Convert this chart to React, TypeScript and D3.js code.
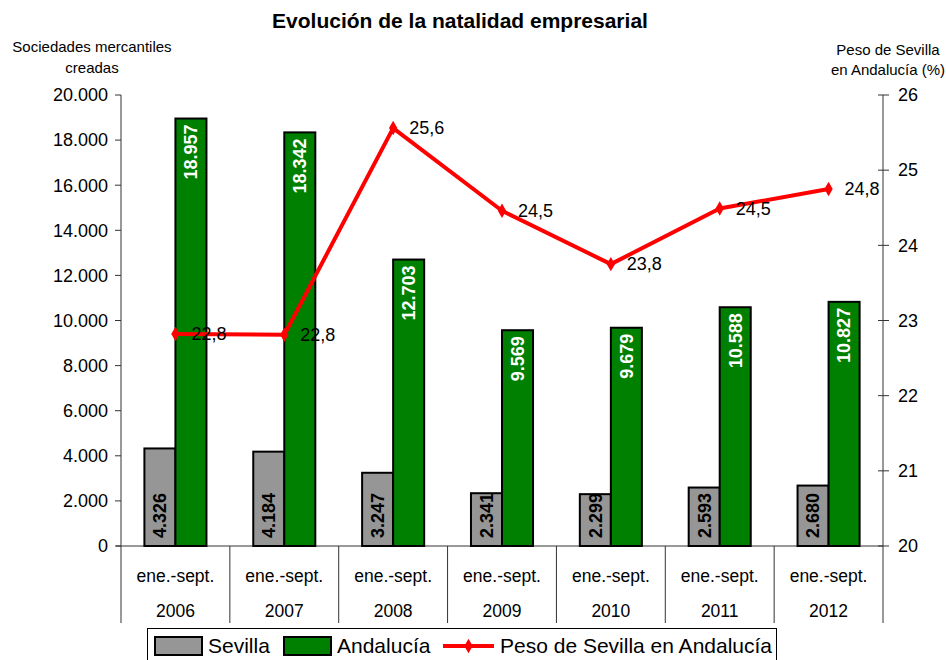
import React from "react";
import * as d3 from "d3";

const years = ["2006", "2007", "2008", "2009", "2010", "2011", "2012"];
const periodLabel = "ene.-sept.";
const sevilla = [4326, 4184, 3247, 2341, 2299, 2593, 2680];
const andalucia = [18957, 18342, 12703, 9569, 9679, 10588, 10827];
const peso = [22.82, 22.81, 25.56, 24.46, 23.75, 24.49, 24.75];
const pesoLabels = ["22,8", "22,8", "25,6", "24,5", "23,8", "24,5", "24,8"];
const leftTicks = [0, 2000, 4000, 6000, 8000, 10000, 12000, 14000, 16000, 18000, 20000];
const rightTicks = [20, 21, 22, 23, 24, 25, 26];

const W = 946;
const H = 660;
const left = 121;
const right = 883;
const top = 95;
const bottom = 546;
const FONT = "Arial, 'Liberation Sans', Helvetica, sans-serif";

const fmt = (v: number) => d3.format(",")(v).replace(/,/g, ".");

export default function App() {
  const x = d3.scaleBand<string>().domain(years).range([left, right]).paddingInner(0).paddingOuter(0);
  const y = d3.scaleLinear().domain([0, 20000]).range([bottom, top]);
  const y2 = d3.scaleLinear().domain([20, 26]).range([bottom, top]);
  const bw = x.bandwidth() * 0.285;
  const line = d3
    .line<number>()
    .x((_, i) => (x(years[i]) as number) + x.bandwidth() / 2)
    .y((d) => y2(d));
  const diamond = d3.symbol().type(d3.symbolDiamond).size(60)() as string;

  return (
    <svg width={W} height={H} style={{ position: "absolute", left: 0, top: 0, background: "#fff" }} fontFamily={FONT}>
      <rect x={0} y={0} width={W} height={H} fill="#fff" />
      <text x={460} y={28} textAnchor="middle" fontWeight="bold" fontSize={21}>
        Evolución de la natalidad empresarial
      </text>
      <text x={92} y={52} textAnchor="middle" fontSize={15}>Sociedades mercantiles</text>
      <text x={92} y={73} textAnchor="middle" fontSize={15}>creadas</text>
      <text x={888} y={55} textAnchor="middle" fontSize={15}>Peso de Sevilla</text>
      <text x={888} y={75} textAnchor="middle" fontSize={15}>en Andalucía (%)</text>

      {/* left axis */}
      <line x1={left} x2={left} y1={top} y2={bottom} stroke="#333" />
      {leftTicks.map((t) => (
        <g key={t}>
          <line x1={left - 6} x2={left} y1={y(t)} y2={y(t)} stroke="#333" />
          <text x={108} y={y(t)} dy="0.35em" textAnchor="end" fontSize={18}>
            {fmt(t)}
          </text>
        </g>
      ))}

      {/* right axis */}
      <line x1={right} x2={right} y1={top} y2={bottom} stroke="#333" />
      {rightTicks.map((t) => (
        <g key={t}>
          <line x1={right - 5} x2={right + 6} y1={y2(t)} y2={y2(t)} stroke="#333" />
          <text x={898} y={y2(t)} dy="0.35em" textAnchor="start" fontSize={18}>
            {t}
          </text>
        </g>
      ))}

      {/* category axis */}
      <line x1={left - 5} x2={right} y1={bottom} y2={bottom} stroke="#333" />
      {years.map((yr) => (
        <line key={"s" + yr} x1={x(yr) as number} x2={x(yr) as number} y1={bottom} y2={623} stroke="#333" />
      ))}
      <line x1={right} x2={right} y1={bottom} y2={623} stroke="#333" />
      {years.map((yr) => {
        const cx = (x(yr) as number) + x.bandwidth() / 2;
        return (
          <g key={"c" + yr}>
            <text x={cx} y={576} dy="0.35em" textAnchor="middle" fontSize={17.5}>{periodLabel}</text>
            <text x={cx} y={611} dy="0.35em" textAnchor="middle" fontSize={17.5}>{yr}</text>
          </g>
        );
      })}

      {/* bars */}
      {years.map((yr, i) => {
        const cx = (x(yr) as number) + x.bandwidth() / 2;
        const gx = cx - bw;
        const ax = cx;
        return (
          <g key={"b" + yr}>
            <rect x={gx} y={y(sevilla[i])} width={bw} height={bottom - y(sevilla[i])} fill="#969696" stroke="#000" strokeWidth={2} />
            <rect x={ax} y={y(andalucia[i])} width={bw} height={bottom - y(andalucia[i])} fill="#008000" stroke="#000" strokeWidth={2} />
            <text
              transform={`translate(${gx + bw / 2},${bottom - 8}) rotate(-90)`}
              dy="0.35em"
              textAnchor="start"
              fontWeight="bold"
              fontSize={18}
              fill="#000"
            >
              {fmt(sevilla[i])}
            </text>
            <text
              transform={`translate(${ax + bw / 2},${y(andalucia[i]) + 6}) rotate(-90)`}
              dy="0.35em"
              textAnchor="end"
              fontWeight="bold"
              fontSize={18}
              fill="#fff"
            >
              {fmt(andalucia[i])}
            </text>
          </g>
        );
      })}

      {/* line */}
      <path d={line(peso) as string} fill="none" stroke="#ff0000" strokeWidth={4} strokeLinejoin="round" />
      {peso.map((v, i) => {
        const cx = (x(years[i]) as number) + x.bandwidth() / 2;
        return (
          <g key={"p" + i}>
            <path d={diamond} transform={`translate(${cx},${y2(v)})`} fill="#ff0000" />
            <text x={cx + 16} y={y2(v)} dy="0.35em" fontSize={18} fill="#000">
              {pesoLabels[i]}
            </text>
          </g>
        );
      })}

      {/* legend */}
      <rect x={147.5} y={628.5} width={629} height={34} fill="#fff" stroke="#000" />
      <rect x={155} y={637} width={47} height={18} fill="#969696" stroke="#000" strokeWidth={2} />
      <text x={208} y={646} dy="0.35em" fontSize={21}>Sevilla</text>
      <rect x={284} y={637} width={47} height={18} fill="#008000" stroke="#000" strokeWidth={2} />
      <text x={337} y={646} dy="0.35em" fontSize={21}>Andalucía</text>
      <line x1={443} x2={494} y1={646} y2={646} stroke="#ff0000" strokeWidth={4} />
      <path d={diamond} transform="translate(468.5,646)" fill="#ff0000" />
      <text x={500} y={646} dy="0.35em" fontSize={21}>Peso de Sevilla en Andalucía</text>
    </svg>
  );
}
